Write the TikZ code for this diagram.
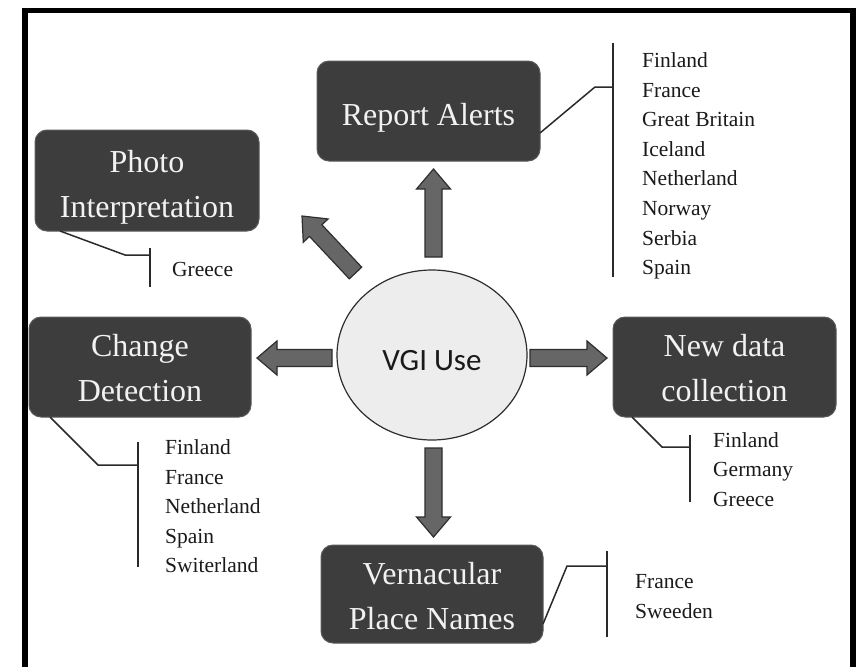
\documentclass[tikz,border=0pt]{standalone}
\usepackage{fontspec}
\setmainfont{Liberation Serif}
\newfontfamily\vgifont{Carlito}
\usetikzlibrary{calc,shapes.geometric}
\definecolor{boxfill}{HTML}{3D3D3D}
\definecolor{boxedge}{HTML}{5A5A5A}
\definecolor{arrfill}{HTML}{666666}
\definecolor{arredge}{HTML}{2E2E2E}
\definecolor{ellfill}{HTML}{EDEDED}
\definecolor{linecol}{HTML}{2A2A2A}
\definecolor{listcol}{HTML}{1A1A1A}
\tikzset{
  catbox/.style={draw=boxedge, line width=1pt, fill=boxfill, rounded corners=12pt,
    minimum width=223pt, minimum height=100pt, inner sep=0pt},
  boxtext/.style={text=white!95!black, font=\fontsize{32}{45}\selectfont, align=center, inner sep=0pt},
  listtext/.style={text=listcol, font=\fontsize{21.5}{29.6}\selectfont, align=left, inner sep=0pt, anchor=north west},
  bracket/.style={draw=linecol, line width=1.5pt},
  blockarr/.style={fill=arrfill, draw=arredge, line width=1.2pt, line join=miter},
}
\newcommand\blockarrow[2]{%
  \path (#1) coordinate (bt) (#2) coordinate (bp);
  \path ($(bp)!20pt!(bt)$) coordinate (bh);
  \draw[blockarr] ($(bt)!8.5pt!90:(bp)$) -- ($(bh)!8.5pt!-90:(bt)$) -- ($(bh)!17pt!-90:(bt)$)
     -- (bp) -- ($(bh)!17pt!90:(bt)$) -- ($(bh)!8.5pt!90:(bt)$) -- ($(bt)!8.5pt!-90:(bp)$) -- cycle;}
\begin{document}
\begin{tikzpicture}[x=1pt,y=-1pt]
\useasboundingbox (0,0) rectangle (857,667);
\fill[white] (0,0) rectangle (857,667);
% frame
\draw[line width=5.5pt] (25,667) -- (25,10.5) -- (853,10.5) -- (853,667);

% centre
\node[ellipse, draw=arredge, line width=1.2pt, fill=ellfill, minimum width=190pt, minimum height=170pt, inner sep=0pt] (vgi) at (432,355) {};
\node[anchor=base, inner sep=0pt, text=listcol, font=\vgifont\fontsize{31}{36}\selectfont] (vgitxt) at (432,370) {VGI Use};

% boxes
\node[catbox] (rep) at (428.5,111) {};
\node[boxtext, anchor=base] (reptxt) at (428.5,125) {Report Alerts};
\node[catbox, minimum width=224pt, minimum height=101pt] (pho) at (147,180.5) {};
\node[boxtext] (photxt) at (147,187) {Photo\\Interpretation};
\node[catbox, minimum width=222pt] (chg) at (140,367) {};
\node[boxtext] (chgtxt) at (140,368.5) {Change\\Detection};
\node[catbox] (new) at (724.5,367) {};
\node[boxtext] (newtxt) at (724.5,368.5) {New data\\collection};
\node[catbox, minimum width=222pt, minimum height=98pt] (ver) at (432,594) {};
\node[boxtext] (vertxt) at (432,596.5) {Vernacular\\Place Names};

% block arrows
\coordinate (a1t) at (433.5,257); \coordinate (a1p) at (433.5,169);
\coordinate (a2t) at (355.5,273); \coordinate (a2p) at (302,216);
\coordinate (a3t) at (332,358);   \coordinate (a3p) at (257,358);
\coordinate (a4t) at (530,358);   \coordinate (a4p) at (607,358);
\coordinate (a5t) at (433.5,448); \coordinate (a5p) at (433.5,537);
\blockarrow{a1t}{a1p}
\blockarrow{a2t}{a2p}
\blockarrow{a3t}{a3p}
\blockarrow{a4t}{a4p}
\blockarrow{a5t}{a5p}

% brackets
\coordinate (r0) at (540,133); \coordinate (r1) at (595,87); \coordinate (r2) at (613,87);
\coordinate (r3) at (613,43); \coordinate (r4) at (613,277);
\draw[bracket] (r0) -- (r1) -- (r2);
\draw[bracket] (r3) -- (r4);

\coordinate (p0) at (60,231); \coordinate (p1) at (125,255); \coordinate (p2) at (150,255);
\coordinate (p3) at (150,248); \coordinate (p4) at (150,287);
\draw[bracket] (p0) -- (p1) -- (p2);
\draw[bracket] (p3) -- (p4);

\coordinate (c0) at (50,417); \coordinate (c1) at (98,465); \coordinate (c2) at (138,465);
\coordinate (c3) at (138,442); \coordinate (c4) at (138,567);
\draw[bracket] (c0) -- (c1) -- (c2);
\draw[bracket] (c3) -- (c4);

\coordinate (n0) at (632,417); \coordinate (n1) at (662,447); \coordinate (n2) at (690,447);
\coordinate (n3) at (690,435); \coordinate (n4) at (690,502);
\draw[bracket] (n0) -- (n1) -- (n2);
\draw[bracket] (n3) -- (n4);

\coordinate (v0) at (543,624); \coordinate (v1) at (567,566); \coordinate (v2) at (607,566);
\coordinate (v3) at (607,551); \coordinate (v4) at (607,637);
\draw[bracket] (v0) -- (v1) -- (v2);
\draw[bracket] (v3) -- (v4);

% lists
\node[listtext] (replist) at (642,52.3) {\vphantom{l}Finland\\France\\Great Britain\\Iceland\\Netherland\\Norway\\Serbia\\Spain};
\node[listtext] (pholist) at (172,261.3) {\vphantom{l}Greece};
\node[listtext] (chglist) at (165,439.3) {\vphantom{l}Finland\\France\\Netherland\\Spain\\Switerland};
\node[listtext] (newlist) at (713,432) {\vphantom{l}Finland\\Germany\\Greece};
\node[listtext] (verlist) at (635,573.3) {\vphantom{l}France\\Sweeden};
\end{tikzpicture}
\end{document}
